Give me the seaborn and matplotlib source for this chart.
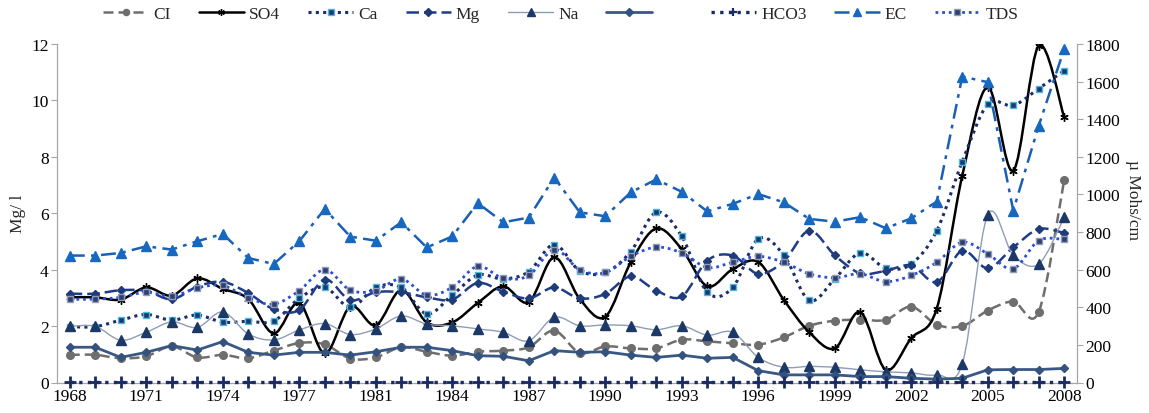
import numpy as np
import pandas as pd
import matplotlib
matplotlib.use("Agg")
import matplotlib.pyplot as plt
from matplotlib.path import Path
from matplotlib.patches import PathPatch
from matplotlib.lines import Line2D
import seaborn as sns

sns.set_theme(style="white")
plt.rcParams["font.family"] = ["Liberation Serif", "DejaVu Serif"]

# categories (1980 is not in the record)
years = [1968, 1969, 1970, 1971, 1972, 1973, 1974, 1975, 1976, 1977,
         1978, 1979, 1981, 1982, 1983, 1984, 1985, 1986, 1987, 1988,
         1989, 1990, 1991, 1992, 1993, 1994, 1995, 1996, 1997, 1998,
         1999, 2000, 2001, 2002, 2003, 2004, 2005, 2006, 2007, 2008]

# left axis, Mg/l
cl = [0.98, 0.98, 0.86, 0.93, 1.28, 0.89, 0.98, 0.86, 1.13, 1.40,
      1.35, 0.85, 0.89, 1.25, 1.09, 0.95, 1.09, 1.13, 1.25, 1.84,
      1.05, 1.28, 1.21, 1.21, 1.52, 1.46, 1.39, 1.34, 1.60, 2.01,
      2.19, 2.23, 2.22, 2.69, 2.05, 2.00, 2.55, 2.87, 2.51, 7.19]
so4 = [3.02, 3.02, 2.94, 3.37, 3.08, 3.69, 3.32, 2.96, 1.74, 2.82,
       1.03, 2.69, 2.03, 3.28, 2.13, 2.13, 2.82, 3.41, 2.85, 4.44,
       2.96, 2.33, 4.26, 5.46, 4.73, 3.41, 4.02, 4.27, 2.93, 1.78,
       1.21, 2.50, 0.45, 1.57, 2.62, 7.33, 10.47, 7.51, 11.94, 9.40]
ca = [1.98, 1.98, 2.21, 2.41, 2.21, 2.39, 2.14, 2.17, 2.18, 2.98,
      3.38, 2.66, 3.37, 3.37, 2.43, 3.10, 3.81, 3.67, 3.93, 4.89,
      3.96, 3.90, 4.64, 6.03, 5.18, 3.20, 3.37, 5.09, 4.52, 2.91,
      3.67, 4.60, 4.05, 4.20, 5.38, 7.83, 9.86, 9.82, 10.42, 11.06]
mg = [3.15, 3.15, 3.27, 3.25, 2.95, 3.40, 3.57, 3.17, 2.60, 2.57,
      3.65, 2.92, 3.20, 3.20, 3.02, 2.94, 3.53, 3.22, 2.98, 3.37,
      2.98, 3.14, 3.76, 3.26, 3.05, 4.32, 4.50, 3.85, 4.30, 5.38,
      4.51, 3.87, 3.96, 4.15, 3.56, 4.67, 4.05, 4.79, 5.44, 5.30]
na = [1.99, 1.99, 1.50, 1.78, 2.15, 1.95, 2.50, 1.72, 1.51, 1.86,
      2.09, 1.70, 1.90, 2.36, 2.07, 2.01, 1.90, 1.78, 1.48, 2.31,
      2.01, 2.04, 2.01, 1.87, 2.01, 1.68, 1.78, 0.89, 0.54, 0.57,
      0.54, 0.45, 0.38, 0.34, 0.27, 0.66, 5.94, 4.52, 4.20, 5.86]
unnamed = [1.25, 1.25, 0.89, 1.07, 1.31, 1.15, 1.45, 1.07, 0.97, 1.07,
           1.07, 0.97, 1.09, 1.25, 1.25, 1.13, 0.95, 0.93, 0.77, 1.13,
           1.07, 1.09, 0.97, 0.89, 0.97, 0.86, 0.89, 0.42, 0.27, 0.27,
           0.27, 0.21, 0.21, 0.15, 0.12, 0.15, 0.45, 0.46, 0.46, 0.50]
hco3 = [0.02, 0.02, 0.02, 0.02, 0.02, 0.02, 0.02, 0.02, 0.02, 0.02,
        0.02, 0.02, 0.02, 0.02, 0.02, 0.02, 0.02, 0.02, 0.02, 0.02,
        0.02, 0.02, 0.02, 0.02, 0.02, 0.02, 0.02, 0.02, 0.02, 0.02,
        0.02, 0.02, 0.02, 0.02, 0.02, 0.02, 0.02, 0.02, 0.02, 0.02]

# right axis, micro Mohs/cm
ec = [675, 675, 689, 724, 707, 751, 790, 662, 630, 751,
      923, 776, 754, 852, 718, 777, 954, 852, 877, 1090,
      905, 884, 1011, 1080, 1014, 910, 950, 1002, 958, 870,
      855, 879, 820, 873, 962, 1627, 1597, 914, 1366, 1774]
tds = [443, 443, 453, 480, 458, 503, 516, 450, 417, 488,
       600, 491, 488, 551, 465, 506, 618, 554, 569, 707,
       599, 585, 671, 720, 689, 612, 639, 671, 639, 578,
       557, 578, 536, 569, 639, 746, 684, 605, 755, 761]


def smooth_path(x, y, t=1.0 / 6.0):
    """Excel-like smoothed line as a cubic Bezier path."""
    pts = np.column_stack([x, y]).astype(float)
    n = len(pts)
    verts = [pts[0]]
    codes = [Path.MOVETO]
    for i in range(n - 1):
        p0 = pts[max(i - 1, 0)]
        p1 = pts[i]
        p2 = pts[i + 1]
        p3 = pts[min(i + 2, n - 1)]
        verts += [p1 + (p2 - p0) * t, p2 - (p3 - p1) * t, p2]
        codes += [Path.CURVE4] * 3
    return Path(verts, codes)


# name, values, axis, smooth, line color, linestyle, lw, marker, ms, face, edge, mew
series = [
    ("CI", cl, "l", True, "#6e6e6e", (0, (4, 2)), 1.8, "o", 5.5, "#6e6e6e", "#6e6e6e", 1.0),
    ("SO4", so4, "l", True, "black", "-", 1.8, (6, 2, 0), 6, "black", "black", 1.0),
    ("Ca", ca, "l", True, "#1b2d6b", (0, (1, 1.4)), 2.2, "s", 5, "#1c3a70", "#4db8e0", 1.0),
    ("Mg", mg, "l", True, "#1f3c88", (0, (5, 2)), 1.8, "D", 4.5, "#1f3c7a", "#1f3c7a", 1.0),
    ("Na", na, "l", True, "#8e9cb8", "-", 1.0, "^", 6.5, "#1b3866", "#1b3866", 1.0),
    ("      ", unnamed, "l", False, "#3a5884", "-", 2.0, "D", 4.5, "#34527e", "#34527e", 1.0),
    ("HCO3", hco3, "l", False, "#1a2a63", (0, (1, 1.6)), 2.4, "+", 8, "#1a2a63", "#1a2a63", 2.0),
    ("EC", ec, "r", False, "#1a5fb4", (0, (6, 2.5, 1.5, 2.5)), 1.8, "^", 6.5, "#1768c0", "#1768c0", 1.0),
    ("TDS", tds, "r", True, "#2a4fd6", (0, (1, 1.4)), 2.0, "s", 5, "#2f3f70", "#8f9bb8", 1.0),
]

fig = plt.figure(figsize=(11.49, 4.14), dpi=100)
ax = fig.add_axes([57 / 1149, 1 - 383.5 / 414, 1020 / 1149, 338.5 / 414])
ax2 = ax.twinx()
idx = np.arange(len(years))

handles = []
labels = []
for k, (name, vals, side, smooth, lc, ls, lw, mk, ms, fc, ecol, mew) in enumerate(series):
    a = ax if side == "l" else ax2
    z = 3 + k
    if smooth:
        a.add_patch(PathPatch(smooth_path(idx, vals), fill=False, edgecolor=lc,
                              linestyle=ls, linewidth=lw, zorder=z))
        sns.lineplot(x=idx, y=vals, ax=a, linestyle="none", marker=mk,
                     markersize=ms, markerfacecolor=fc, markeredgecolor=ecol,
                     markeredgewidth=mew, color=lc, zorder=z + 0.5)
    else:
        sns.lineplot(x=idx, y=vals, ax=a, color=lc, linestyle=ls, linewidth=lw,
                     marker=mk, markersize=ms, markerfacecolor=fc,
                     markeredgecolor=ecol, markeredgewidth=mew, zorder=z,
                     clip_on=False)
    handles.append(Line2D([], [], color=lc, linestyle=ls, linewidth=lw, marker=mk,
                          markersize=ms * 0.8, markerfacecolor=fc,
                          markeredgecolor=ecol, markeredgewidth=min(mew, 1.6)))
    labels.append(name)

grey = "#a6a6a6"
ax.set_xlim(-0.5, len(years) - 0.5)
ax.set_ylim(0, 12)
ax2.set_ylim(0, 1800)
ax.set_xticks(idx[::3])
ax.set_xticklabels([str(y) for y in years[::3]])
ax.set_xticks(np.arange(-0.5, len(years), 1.0), minor=True)
ax.set_yticks(np.arange(0, 13, 2))
ax2.set_yticks(np.arange(0, 1801, 200))
ax.tick_params(axis="x", which="major", length=0, pad=4, labelsize=12.5, colors="black")
ax.tick_params(axis="x", which="minor", length=4, direction="out", color=grey, width=0.8)
ax.tick_params(axis="y", length=4, direction="out", color=grey, width=0.8,
               labelsize=12.5, pad=2, labelcolor="black")
ax2.tick_params(axis="y", length=4, direction="out", color=grey, width=0.8,
                labelsize=12.5, pad=2, labelcolor="black")
ax.set_xlabel("")
ax.set_ylabel("")
ax2.set_ylabel("")

for sp in ["top", "right"]:
    ax.spines[sp].set_visible(False)
for sp in ["top", "left", "bottom"]:
    ax2.spines[sp].set_visible(False)
for s in [ax.spines["left"], ax.spines["bottom"], ax2.spines["right"]]:
    s.set_color(grey)
    s.set_linewidth(0.9)

fig.text(18 / 1149, 1 - 214 / 414, "Mg/ l", rotation=90, ha="center", va="center",
         fontsize=12.5)
fig.text(1133 / 1149, 1 - 200 / 414, "\u00b5 Mohs/cm", rotation=270, ha="center",
         va="center", fontsize=12.5)

fig.legend(handles, labels, loc="center", bbox_to_anchor=(0.488, 1 - 15 / 414),
           ncol=9, frameon=False, fontsize=12.5, handlelength=2.6,
           columnspacing=1.6, handletextpad=0.3)

fig.savefig("out.png", dpi=100)
